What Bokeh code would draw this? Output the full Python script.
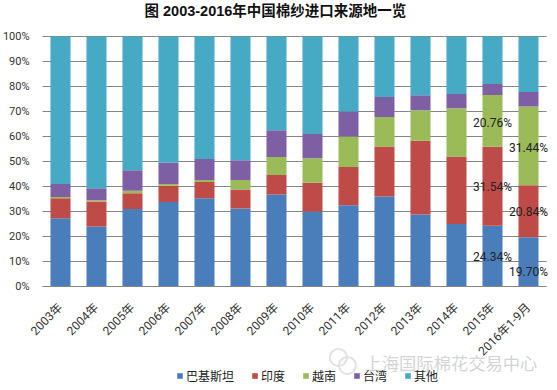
from bokeh.plotting import figure
from bokeh.embed import file_html
from bokeh.resources import INLINE
from bokeh.models import ColumnDataSource, FixedTicker, Legend, LegendItem, Label, Range1d
from bokeh.core.properties import value

years = ["2003年","2004年","2005年","2006年","2007年","2008年","2009年","2010年","2011年","2012年","2013年","2014年","2015年","2016年1-9月"]
pakistan = [27.3,24.0,31.0,33.8,35.3,31.2,36.8,30.0,32.5,36.0,28.8,25.0,24.34,19.70]
india    = [8.0,10.0,6.3,6.5,6.5,7.6,7.8,11.5,15.3,20.0,29.5,27.0,31.54,20.84]
vietnam  = [0.5,0.5,1.0,0.7,0.8,3.8,7.2,9.8,12.2,11.8,12.2,19.3,20.76,31.44]
taiwan   = [5.2,4.8,8.2,8.5,8.4,7.9,10.7,9.7,10.0,8.0,6.0,5.7,4.4,5.8]
other    = [59.0,60.7,53.5,50.5,49.0,49.5,37.5,39.0,30.0,24.2,23.5,23.0,18.96,22.22]
series_names = ["巴基斯坦","印度","越南","台湾","其他"]
colors = ["#4A7EBB","#BE4B48","#9BBB59","#7F5FA3","#46AAC5"]
pct_ticks = [0,10,20,30,40,50,60,70,80,90,100]
title_text = "图 2003-2016年中国棉纱进口来源地一览"
watermark = "上海国际棉花交易中心"

label_idx = [12,12,12,13,13,13]
label_series = [pakistan, india, vietnam, pakistan, india, vietnam]
label_drop = [-1,-1,-2,-10,-1,-2]

LATIN_CJK = "Roboto, 'Noto Sans CJK SC'"
xs = list(range(len(years)))
x_lo, x_hi = -0.5, len(years) - 0.5

p = figure(width=557, height=392, output_backend="svg", toolbar_location=None,
           x_range=Range1d(-68/36, 489/36),
           y_range=Range1d(-39.2, 104),
           margin=(-8,0,0,-8), min_border_left=0, min_border_right=0, min_border_top=34, min_border_bottom=0,
           outline_line_color=None, background_fill_color="white")

p.title.text = title_text
p.title.align = "left"
p.title.offset = 152
p.title.text_font = "'Liberation Sans', 'Noto Sans CJK SC'"
p.title.text_font_size = "14.5px"
p.title.text_font_style = "bold"
p.title.text_color = "#111111"
p.title.standoff = 16

p.xgrid.visible = False
p.ygrid.visible = False
p.segment(x0=[x_lo]*len(pct_ticks), x1=[x_hi]*len(pct_ticks), y0=pct_ticks, y1=pct_ticks,
          line_color="#858585", line_width=1, level="underlay")

src = ColumnDataSource(dict(x=xs, a=pakistan, b=india, c=vietnam, d=taiwan, e=other))
keys = ["a","b","c","d","e"]
rs = p.vbar_stack(keys, x="x", width=0.556, color=colors, line_width=0, source=src)

p.yaxis.fixed_location = x_lo
p.yaxis.ticker = FixedTicker(ticks=pct_ticks)
p.yaxis.major_label_overrides = {t: f"{t}%" for t in pct_ticks}
p.yaxis.axis_line_color = None
p.yaxis.major_tick_line_color = None
p.yaxis.minor_tick_line_color = None
p.yaxis.major_tick_out = 0
p.yaxis.major_label_text_font = LATIN_CJK
p.yaxis.major_label_text_font_size = "11px"
p.yaxis.major_label_text_color = "#333333"
p.yaxis.major_label_standoff = 13

p.xaxis.fixed_location = 0
p.xaxis.bounds = (x_lo, x_hi)
p.xaxis.ticker = FixedTicker(ticks=xs)
p.xaxis.major_label_overrides = dict(zip(xs, years))
p.xaxis.axis_line_color = "#858585"
p.xaxis.major_tick_line_color = None
p.xaxis.minor_tick_line_color = None
p.xaxis.major_tick_out = 0
p.xaxis.major_label_orientation = 0.785
p.xaxis.major_label_text_font = LATIN_CJK
p.xaxis.major_label_text_font_size = "12px"
p.xaxis.major_label_text_color = "#333333"
p.xaxis.major_label_standoff = 19

# data labels centred on their stacked segments
seg_x, seg_y, seg_txt = [], [], []
for i, ser, drop in zip(label_idx, label_series, label_drop):
    base = 0
    for s in (pakistan, india, vietnam):
        if s is ser:
            break
        base += s[i]
    seg_x.append(i)
    seg_y.append(base + ser[i]/2 + drop*0.4)
    seg_txt.append(f"{ser[i]:.2f}%")
p.text(x=seg_x, y=seg_y, text=seg_txt, text_align="center", text_baseline="middle",
       text_font=value("Roboto"), text_font_size="12px", text_color="#222222")

items = [LegendItem(label=value(n), renderers=[r]) for n, r in zip(series_names, rs)]
leg = Legend(items=items, orientation="horizontal", location=(184,0), border_line_color=None,
             background_fill_alpha=0, padding=0, margin=0, spacing=17, label_standoff=3,
             glyph_width=7, glyph_height=7, label_height=14,
             label_text_font="Noto Sans CJK SC", label_text_font_size="12px", label_text_color="#222222")
p.add_layout(leg, "center")

p.add_layout(Label(x=372, y=22, x_units="screen", y_units="screen", text=watermark,
                   text_font="Noto Sans CJK SC", text_font_size="17.3px", text_color="#D4D4D4",
                   text_baseline="alphabetic"))

# faint logo of the watermark
p.scatter(x=[7.72, 7.97], y=[-28.4, -31.6], size=[17, 17], marker="circle", fill_color=None,
          line_color="#E2E2E2", line_width=2)

open("out.html", "w").write(file_html(p, INLINE))
